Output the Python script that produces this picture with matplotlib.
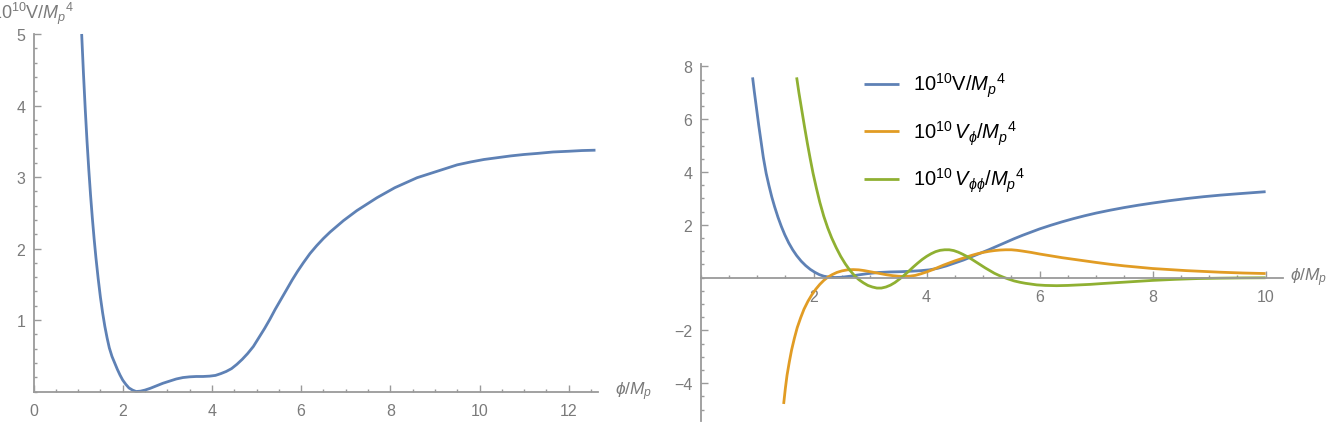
import matplotlib
matplotlib.use('Agg')
import matplotlib.pyplot as plt
from matplotlib.ticker import MultipleLocator, FixedLocator

plt.rcParams['font.family'] = ['Liberation Sans', 'DejaVu Sans']
plt.rcParams['mathtext.fontset'] = 'custom'
plt.rcParams['mathtext.rm'] = 'Liberation Sans'
plt.rcParams['mathtext.it'] = 'Liberation Sans:italic'
plt.rcParams['mathtext.fallback'] = 'stixsans'

# ---------------- data ----------------
# left panel: potential 10^10 V / Mp^4
phi_left = [1.08, 1.12, 1.16, 1.20, 1.24, 1.28, 1.32, 1.36, 1.40, 1.45, 1.50, 1.55,
            1.60, 1.65, 1.70, 1.76, 1.82, 1.88, 1.94, 2.00, 2.07, 2.14, 2.22, 2.30,
            2.40, 2.50, 2.62, 2.76, 2.90, 3.05, 3.20, 3.35, 3.50, 3.65, 3.80, 3.95,
            4.08, 4.20, 4.32, 4.44, 4.56, 4.68, 4.80, 4.93, 5.05, 5.18, 5.30, 5.42,
            5.55, 5.68, 5.80, 5.92, 6.05, 6.20, 6.35, 6.50, 6.65, 6.80, 6.95, 7.10,
            7.25, 7.40, 7.55, 7.70, 7.90, 8.10, 8.35, 8.60, 8.90, 9.20, 9.50, 9.80,
            10.10, 10.40, 10.70, 11.00, 11.30, 11.65, 12.00, 12.30, 12.60]
V_left = [5.00, 4.45, 3.95, 3.50, 3.10, 2.74, 2.42, 2.13, 1.87, 1.58, 1.32, 1.10,
          0.91, 0.75, 0.61, 0.49, 0.40, 0.31, 0.23, 0.16, 0.10, 0.05, 0.02, 0.00,
          0.005, 0.02, 0.045, 0.08, 0.115, 0.145, 0.175, 0.195, 0.205, 0.21, 0.21, 0.215,
          0.225, 0.25, 0.28, 0.32, 0.38, 0.45, 0.53, 0.63, 0.75, 0.88, 1.01, 1.15,
          1.29, 1.43, 1.56, 1.68, 1.80, 1.93, 2.04, 2.14, 2.23, 2.31, 2.39, 2.46,
          2.53, 2.59, 2.65, 2.71, 2.78, 2.85, 2.92, 2.99, 3.05, 3.11, 3.17, 3.21,
          3.245, 3.27, 3.295, 3.315, 3.33, 3.35, 3.36, 3.37, 3.375]

# right panel: V, V_phi, V_phiphi (all x 10^10 / Mp^4)
phi_V = [0.92, 0.95, 0.99, 1.03, 1.07, 1.11, 1.16, 1.21, 1.26, 1.31, 1.37, 1.43,
         1.49, 1.56, 1.63, 1.70, 1.78, 1.86, 1.94, 2.02, 2.10, 2.18, 2.27, 2.38,
         2.50, 2.65, 2.80, 2.97, 3.15, 3.35, 3.55, 3.75, 3.90, 4.05, 4.20, 4.35,
         4.50, 4.65, 4.80, 4.95, 5.10, 5.25, 5.40, 5.55, 5.70, 5.85, 6.00, 6.20,
         6.40, 6.60, 6.80, 7.00, 7.25, 7.50, 7.75, 8.00, 8.30, 8.60, 8.90, 9.20,
         9.50, 9.75, 10.00]
V_right = [7.58, 7.05, 6.40, 5.75, 5.15, 4.55, 3.95, 3.48, 3.05, 2.68, 2.28, 1.93,
           1.62, 1.31, 1.05, 0.83, 0.62, 0.45, 0.31, 0.20, 0.11, 0.05, 0.015, 0.00,
           0.01, 0.05, 0.10, 0.15, 0.19, 0.21, 0.22, 0.24, 0.26, 0.29, 0.35, 0.44,
           0.55, 0.66, 0.79, 0.92, 1.05, 1.19, 1.33, 1.47, 1.60, 1.72, 1.84, 1.98,
           2.11, 2.23, 2.34, 2.44, 2.55, 2.65, 2.74, 2.82, 2.91, 2.99, 3.06, 3.12,
           3.17, 3.21, 3.25]

phi_dV = [1.47, 1.50, 1.53, 1.57, 1.61, 1.66, 1.71, 1.77, 1.83, 1.90, 1.97, 2.04,
          2.11, 2.18, 2.25, 2.33, 2.41, 2.50, 2.60, 2.70, 2.80, 2.90, 3.00, 3.10,
          3.20, 3.30, 3.40, 3.50, 3.60, 3.70, 3.80, 3.90, 4.00, 4.10, 4.20, 4.30,
          4.40, 4.50, 4.60, 4.70, 4.80, 4.90, 5.00, 5.10, 5.20, 5.30, 5.40, 5.50,
          5.60, 5.70, 5.85, 6.00, 6.20, 6.40, 6.60, 6.80, 7.00, 7.25, 7.50, 7.75,
          8.00, 8.30, 8.60, 8.90, 9.20, 9.60, 10.00]
dV = [-4.79, -4.20, -3.70, -3.20, -2.75, -2.30, -1.90, -1.53, -1.20, -0.90, -0.65, -0.44,
      -0.26, -0.11, 0.01, 0.11, 0.19, 0.25, 0.29, 0.30, 0.29, 0.26, 0.22, 0.18,
      0.14, 0.10, 0.07, 0.05, 0.04, 0.05, 0.08, 0.14, 0.21, 0.29, 0.38, 0.47,
      0.55, 0.63, 0.70, 0.77, 0.84, 0.90, 0.95, 0.99, 1.02, 1.04, 1.05, 1.05,
      1.03, 1.00, 0.95, 0.89, 0.82, 0.75, 0.69, 0.63, 0.57, 0.50, 0.44, 0.39,
      0.34, 0.30, 0.26, 0.23, 0.20, 0.17, 0.15]

phi_ddV = [1.70, 1.74, 1.79, 1.84, 1.89, 1.94, 1.99, 2.05, 2.11, 2.18, 2.25, 2.32,
           2.40, 2.48, 2.56, 2.64, 2.72, 2.80, 2.88, 2.96, 3.04, 3.12, 3.20, 3.28,
           3.36, 3.44, 3.52, 3.60, 3.68, 3.76, 3.84, 3.92, 4.00, 4.08, 4.16, 4.24,
           4.32, 4.40, 4.48, 4.56, 4.64, 4.72, 4.80, 4.88, 4.96, 5.04, 5.12, 5.20,
           5.28, 5.36, 5.45, 5.55, 5.65, 5.75, 5.85, 5.95, 6.10, 6.30, 6.50, 6.70,
           6.90, 7.10, 7.40, 7.70, 8.00, 8.40, 8.80, 9.20, 9.60, 10.00]
ddV = [7.58, 7.00, 6.35, 5.70, 5.08, 4.50, 3.95, 3.38, 2.85, 2.32, 1.88, 1.50,
       1.13, 0.80, 0.52, 0.28, 0.08, -0.08, -0.20, -0.30, -0.36, -0.40, -0.40, -0.36,
       -0.29, -0.19, -0.06, 0.08, 0.23, 0.39, 0.54, 0.68, 0.80, 0.90, 0.98, 1.03,
       1.05, 1.05, 1.02, 0.96, 0.88, 0.79, 0.69, 0.58, 0.47, 0.36, 0.26, 0.16,
       0.08, 0.01, -0.06, -0.13, -0.18, -0.22, -0.25, -0.28, -0.30, -0.31, -0.30, -0.28,
       -0.26, -0.23, -0.19, -0.15, -0.11, -0.07, -0.04, -0.025, -0.015, -0.01]

left_xticks = [0, 2, 4, 6, 8, 10, 12]
left_yticks = [1, 2, 3, 4, 5]
right_xticks = [2, 4, 6, 8, 10]
right_yticks = [-4, -2, 2, 4, 6, 8]

labels = [r"$10^{10}\mathrm{V}/{M_p}^4$",
          r"$10^{10}\,V_{\phi}/{M_p}^4$",
          r"$10^{10}\,V_{\phi\phi}/{M_p}^4$"]

# ---------------- styling ----------------
C_BLUE = '#5e81b5'
C_ORANGE = '#e19c24'
C_GREEN = '#8fb032'
AXC = '#9a9a9a'
TXC = '#7a7a7a'
LW = 2.0

W, H = 1341, 431
fig = plt.figure(figsize=(W / 100, H / 100), dpi=100)


def ax_at(x0, y0, x1, y1):
    return fig.add_axes([x0 / W, 1 - y1 / H, (x1 - x0) / W, (y1 - y0) / H])


def style(ax):
    for s in ['top', 'right']:
        ax.spines[s].set_visible(False)
    for s in ['left', 'bottom']:
        ax.spines[s].set_position(('data', 0))
        ax.spines[s].set_color(AXC)
        ax.spines[s].set_linewidth(1.3)
    ax.tick_params(which='both', direction='in', color=AXC, labelcolor=TXC,
                   labelsize=11.5, width=1.0)
    ax.tick_params(which='major', length=5)
    ax.tick_params(which='minor', length=2.5)
    ax.tick_params(axis='x', pad=8)
    ax.tick_params(axis='y', pad=6)
    ax.patch.set_alpha(0)


# left panel
axL = ax_at(33.5, 35, 33.5 + 12.65 * 44.6, 392.5)
axL.set_xlim(0, 12.65)
axL.set_ylim(0, 5)
style(axL)
axL.xaxis.set_major_locator(FixedLocator(left_xticks))
axL.xaxis.set_minor_locator(MultipleLocator(0.5))
axL.yaxis.set_major_locator(FixedLocator(left_yticks))
axL.yaxis.set_minor_locator(MultipleLocator(0.2))
axL.plot(phi_left, V_left, color=C_BLUE, lw=LW, clip_on=False,
         solid_capstyle='butt', solid_joinstyle='round')

# right panel
xr0 = 700.6
ax_r = ax_at(xr0, 278.5 - 8.1 * 26.4, xr0 + 10.3 * 56.5, 278.5 + 5.45 * 26.4)
ax_r.set_xlim(0, 10.3)
ax_r.set_ylim(-5.45, 8.1)
style(ax_r)
ax_r.xaxis.set_major_locator(FixedLocator(right_xticks))
ax_r.xaxis.set_minor_locator(MultipleLocator(0.5))
ax_r.yaxis.set_major_locator(FixedLocator(right_yticks))
ax_r.yaxis.set_minor_locator(MultipleLocator(0.5))
l1, = ax_r.plot(phi_V, V_right, color=C_BLUE, lw=LW, clip_on=False,
                solid_capstyle='butt', solid_joinstyle='round')
l2, = ax_r.plot(phi_dV, dV, color=C_ORANGE, lw=LW, clip_on=False,
                solid_capstyle='butt', solid_joinstyle='round')
l3, = ax_r.plot(phi_ddV, ddV, color=C_GREEN, lw=LW, clip_on=False,
                solid_capstyle='butt', solid_joinstyle='round')

fig.legend([l1, l2, l3], labels, loc='upper left',
           bbox_to_anchor=(864 / W, 1 - 72 / H), frameon=False, fontsize=14.5,
           handlelength=1.75, handletextpad=0.7, labelspacing=0.95,
           borderpad=0, borderaxespad=0)

# axis labels
fig.text(615 / W, 1 - 392 / H, r"$\phi/M_p$", color=TXC, fontsize=12.5,
         ha='left', va='center')
fig.text(1290 / W, 1 - 278 / H, r"$\phi/M_p$", color=TXC, fontsize=12.5,
         ha='left', va='center')
fig.text(-9 / W, 1 - 19 / H, r"$10^{10}\mathrm{V}/{M_p}^4$", color=TXC,
         fontsize=13, ha='left', va='baseline')

fig.savefig('out.png', dpi=100)
